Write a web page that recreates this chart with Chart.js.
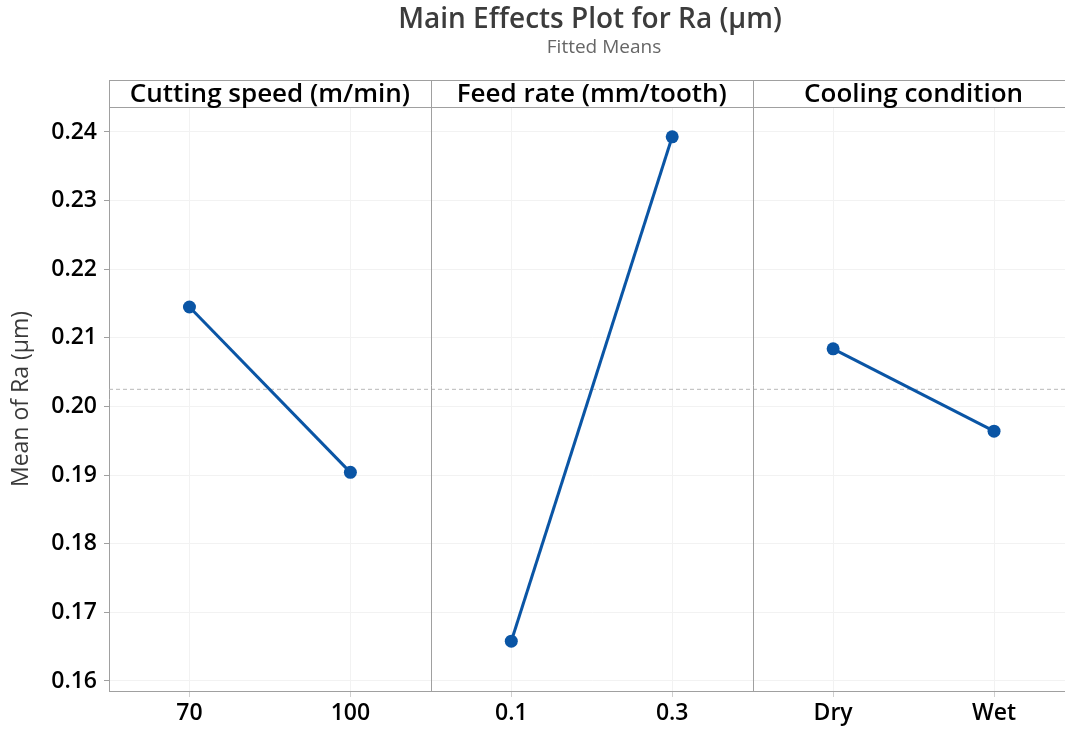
<!DOCTYPE html>
<html>
<head>
<meta charset="utf-8">
<script src="https://cdn.jsdelivr.net/npm/chart.js@4/dist/chart.umd.min.js"></script>
<style>
  html, body { margin: 0; padding: 0; background: #fff; overflow: hidden; }
  #wrap { width: 1081px; height: 730px; }
</style>
</head>
<body>
<div id="wrap"><canvas id="c" width="1081" height="730"></canvas></div>
<script>
// ---- data ----
const factorNames = ['Cutting speed (m/min)', 'Feed rate (mm/tooth)', 'Cooling condition'];
const levelLabels = ['70', '100', '0.1', '0.3', 'Dry', 'Wet'];
const cuttingSpeedMeans = [0.2145, 0.1904];
const feedRateMeans = [0.1658, 0.2393];
const coolingMeans = [0.2084, 0.1964];
const grandMean = 0.2025;
const yTickValues = [0.16, 0.17, 0.18, 0.19, 0.20, 0.21, 0.22, 0.23, 0.24];

const FONT = '"Open Sans", "Noto Sans", sans-serif';
const LINE = '#0a55a5';
const FRAME = '#a0a0a0';

function padded(vals, idx) {
  const arr = levelLabels.map(() => null);
  arr[idx] = vals[0];
  arr[idx + 1] = vals[1];
  return arr;
}
const series = [cuttingSpeedMeans, feedRateMeans, coolingMeans];
const datasets = series.map((vals, i) => ({
  data: padded(vals, i * 2),
  borderColor: LINE,
  backgroundColor: LINE,
  borderWidth: 3,
  pointRadius: 6.5,
  pointHoverRadius: 6.5,
  pointBorderWidth: 0,
  spanGaps: false
}));

const decor = {
  id: 'decor',
  beforeDatasetsDraw(chart) {
    const {ctx, chartArea, scales} = chart;
    const y = scales.y;
    ctx.save();
    const ym = y.getPixelForValue(grandMean);
    ctx.strokeStyle = '#b8b8b8';
    ctx.lineWidth = 1;
    ctx.setLineDash([4, 3]);
    ctx.beginPath();
    ctx.moveTo(chartArea.left, ym);
    ctx.lineTo(chartArea.right, ym);
    ctx.stroke();
    ctx.restore();
  },
  afterDraw(chart) {
    const {ctx, chartArea, scales} = chart;
    const x = scales.x;
    const top = 80;
    ctx.save();
    ctx.strokeStyle = FRAME;
    ctx.lineWidth = 1;
    ctx.beginPath();
    ctx.moveTo(chartArea.left, top + 0.5);
    ctx.lineTo(chart.width, top + 0.5);
    ctx.moveTo(chartArea.left, chartArea.top + 0.5);
    ctx.lineTo(chart.width, chartArea.top + 0.5);
    ctx.moveTo(chartArea.left + 0.5, top);
    ctx.lineTo(chartArea.left + 0.5, chartArea.top);
    ctx.stroke();
    for (let p = 1; p < factorNames.length; p++) {
      const xp = Math.round((x.getPixelForValue(p * 2 - 1) + x.getPixelForValue(p * 2)) / 2) + 0.5;
      ctx.beginPath();
      ctx.moveTo(xp, top);
      ctx.lineTo(xp, chartArea.bottom);
      ctx.stroke();
    }
    ctx.fillStyle = '#000';
    ctx.font = '600 26px ' + FONT;
    ctx.textAlign = 'center';
    ctx.textBaseline = 'middle';
    factorNames.forEach((name, i) => {
      const cx = (x.getPixelForValue(i * 2) + x.getPixelForValue(i * 2 + 1)) / 2;
      ctx.fillText(name, cx, 95);
    });
    ctx.fillStyle = '#3c3c3c';
    ctx.font = '600 28px ' + FONT;
    ctx.fillText('Main Effects Plot for Ra (µm)', 590, 20);
    ctx.fillStyle = '#666';
    ctx.font = '400 19px ' + FONT;
    ctx.fillText('Fitted Means', 604, 48);
    ctx.restore();
  }
};

new Chart(document.getElementById('c'), {
  type: 'line',
  data: { labels: levelLabels, datasets },
  options: {
    responsive: false,
    animation: false,
    layout: { padding: { top: 107, right: 0, left: 0, bottom: 0 } },
    plugins: { legend: { display: false }, tooltip: { enabled: false }, title: { display: false } },
    scales: {
      x: {
        type: 'category',
        offset: true,
        grid: { offset: false, color: '#f2f2f2', tickColor: '#d0d0d0', tickLength: 6, drawTicks: true },
        border: { color: FRAME },
        ticks: { color: '#000', font: { family: FONT, size: 23, weight: '600' }, padding: 3, maxRotation: 0 },
        afterFit(s) { s.height = 39; }
      },
      y: {
        min: 0.15854,
        max: 0.24364,
        afterBuildTicks(s) { s.ticks = yTickValues.map(v => ({ value: v })); },
        grid: { color: '#f2f2f2', tickColor: FRAME, tickLength: 5 },
        border: { color: FRAME },
        ticks: {
          color: '#000', font: { family: FONT, size: 23, weight: '600' }, padding: 7,
          callback: v => Number(v).toFixed(2)
        },
        title: {
          display: true, text: 'Mean of Ra (µm)', color: '#3a3a3a',
          font: { family: FONT, size: 23, weight: '400' }, padding: { top: 8, bottom: 0 }
        },
        afterFit(s) { s.width = 109; }
      }
    }
  },
  plugins: [decor]
});
</script>
</body>
</html>
